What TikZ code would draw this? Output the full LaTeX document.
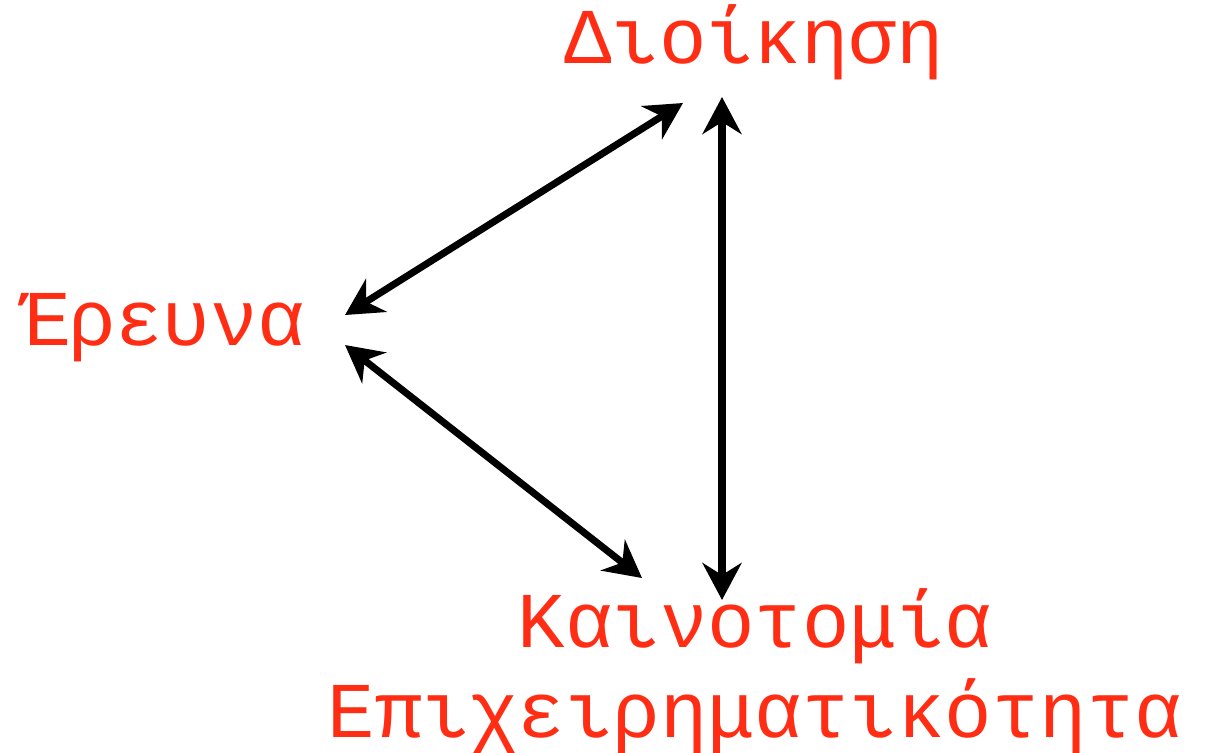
\documentclass[tikz,border=0pt]{standalone}
\usepackage{fontspec}
\setmainfont{Liberation Mono}
\usepackage{tikz}
\usetikzlibrary{arrows.meta,positioning}
\definecolor{termred}{RGB}{255,45,20}
\tikzset{
  term/.style={
    text=termred, inner sep=0pt, anchor=base,
    font=\fontsize{22.5}{27}\selectfont
  },
  arr/.style={{Stealth[length=3.7mm,width=3.9mm]}-{Stealth[length=3.7mm,width=3.9mm]}, line width=2pt}
}

\begin{document}
\begin{tikzpicture}[x=0.1mm, y=-0.1mm]
  \useasboundingbox (0,0) rectangle (1209,752);

  \node[term] (dioik) at (754,63) {Διοίκηση};
  \node[term] (erevna) at (163,345) {Έρευνα};
  \node[term] (kainot) at (755,647) {Καινοτομία};
  \node[term] (epix) at (755,737) {Επιχειρηματικότητα};

  \draw[arr] ([shift={(-71,40)}]dioik.base) -- ([shift={(182,-30)}]erevna.base);
  \draw[arr] ([shift={(182,0)}]erevna.base) -- ([shift={(-113,-69)}]kainot.base);
  \draw[arr] ([shift={(-32,34)}]dioik.base) -- ([shift={(-33,-47)}]kainot.base);
\end{tikzpicture}
\end{document}
